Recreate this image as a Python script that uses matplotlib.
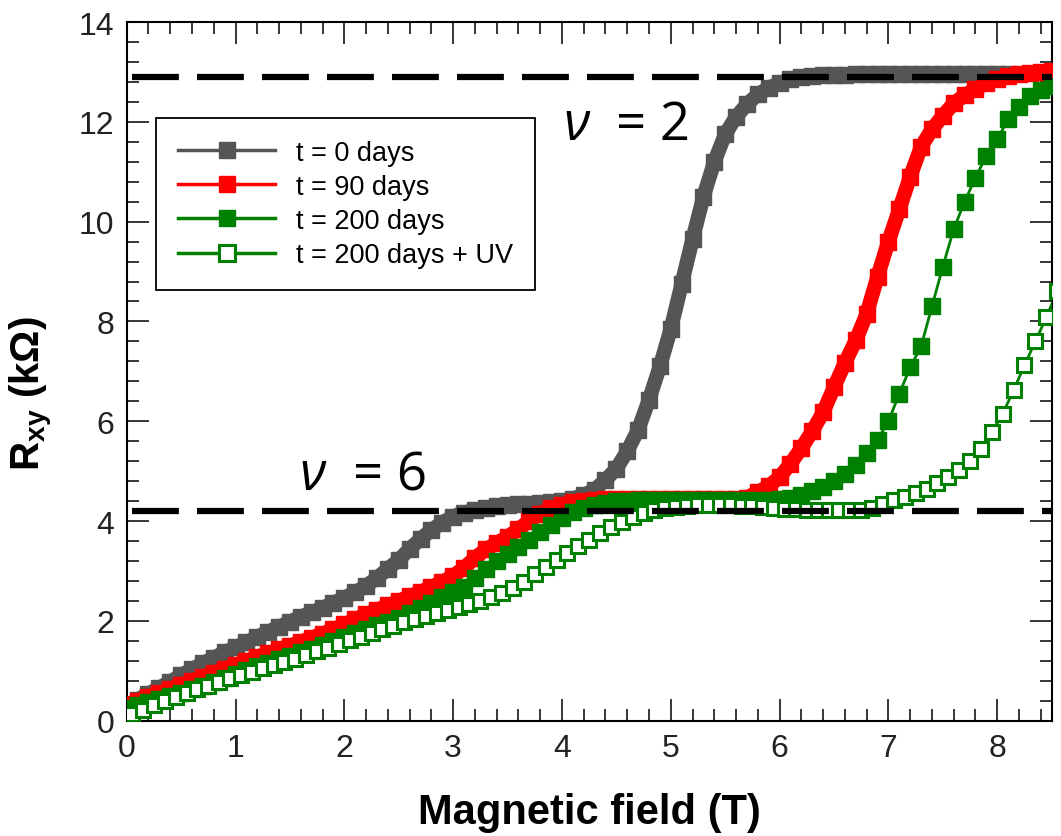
import numpy as np
import matplotlib
matplotlib.use('Agg')
import matplotlib.pyplot as plt
from matplotlib.ticker import MultipleLocator
from matplotlib.lines import Line2D

plt.rcParams['font.family'] = 'Liberation Sans'
plt.rcParams['mathtext.fontset'] = 'custom'
plt.rcParams['mathtext.rm'] = 'Liberation Sans'
plt.rcParams['mathtext.bf'] = 'Liberation Sans:bold'
plt.rcParams['mathtext.it'] = 'Liberation Sans:italic'

# field values (T)
field_0d = np.round(np.arange(0, 8.15, 0.1), 2)
field_90d = np.round(np.arange(0, 8.55, 0.1), 2)
field_200d = np.round(np.arange(0, 8.55, 0.1), 2)
field_uv = np.round(np.arange(0.05, 8.6, 0.1), 2)

# Rxy (kOhm)
rxy_0d = [0.30, 0.42, 0.54, 0.66, 0.78, 0.91, 1.03, 1.15, 1.26, 1.37,
          1.47, 1.57, 1.68, 1.78, 1.88, 1.98, 2.08, 2.17, 2.26, 2.36,
          2.46, 2.57, 2.70, 2.86, 3.04, 3.22, 3.44, 3.64, 3.82, 3.97,
          4.09, 4.17, 4.22, 4.26, 4.30, 4.32, 4.34, 4.35, 4.36, 4.38,
          4.41, 4.45, 4.52, 4.63, 4.82, 5.05, 5.40, 5.83, 6.43, 7.10,
          7.85, 8.75, 9.65, 10.50, 11.20, 11.75, 12.10, 12.35, 12.55, 12.68,
          12.78, 12.85, 12.89, 12.92, 12.93, 12.94, 12.94, 12.95, 12.95, 12.95,
          12.95, 12.95, 12.95, 12.95, 12.95, 12.95, 12.95, 12.95, 12.95, 12.95,
          12.95, 12.95]
rxy_90d = [0.32, 0.40, 0.48, 0.56, 0.64, 0.72, 0.80, 0.88, 0.96, 1.04,
           1.12, 1.20, 1.28, 1.35, 1.43, 1.50, 1.58, 1.66, 1.74, 1.83,
           1.93, 2.03, 2.13, 2.22, 2.31, 2.40, 2.49, 2.58, 2.68, 2.78,
           2.90, 3.06, 3.26, 3.43, 3.56, 3.68, 3.84, 4.00, 4.15, 4.26,
           4.33, 4.38, 4.41, 4.43, 4.44, 4.44, 4.44, 4.44, 4.44, 4.44,
           4.44, 4.44, 4.44, 4.44, 4.44, 4.44, 4.44, 4.47, 4.58, 4.70,
           4.88, 5.15, 5.46, 5.80, 6.18, 6.68, 7.17, 7.62, 8.15, 8.90,
           9.60, 10.25, 10.90, 11.50, 11.85, 12.12, 12.37, 12.53, 12.66, 12.77,
           12.85, 12.91, 12.95, 12.98, 13.00, 13.01]
rxy_200d = [0.25, 0.32, 0.38, 0.44, 0.50, 0.56, 0.63, 0.70, 0.78, 0.86,
            0.94, 1.01, 1.09, 1.16, 1.23, 1.30, 1.37, 1.44, 1.51, 1.59,
            1.67, 1.75, 1.83, 1.91, 1.98, 2.06, 2.15, 2.25, 2.36, 2.47,
            2.57, 2.68, 2.86, 3.04, 3.20, 3.34, 3.48, 3.63, 3.78, 3.93,
            4.07, 4.18, 4.27, 4.33, 4.37, 4.40, 4.41, 4.42, 4.42, 4.42,
            4.42, 4.42, 4.42, 4.42, 4.42, 4.42, 4.42, 4.42, 4.42, 4.42,
            4.44, 4.47, 4.53, 4.60, 4.68, 4.80, 4.95, 5.13, 5.37, 5.63,
            6.00, 6.55, 7.08, 7.50, 8.30, 9.10, 9.85, 10.40, 10.88, 11.32,
            11.65, 12.05, 12.30, 12.52, 12.64, 12.72]
rxy_uv = [0.13, 0.22, 0.31, 0.40, 0.48, 0.55, 0.63, 0.70, 0.77, 0.85,
          0.92, 0.98, 1.05, 1.11, 1.17, 1.24, 1.31, 1.39, 1.46, 1.53,
          1.61, 1.68, 1.76, 1.83, 1.90, 1.97, 2.04, 2.10, 2.16, 2.22,
          2.28, 2.34, 2.40, 2.47, 2.55, 2.65, 2.78, 2.93, 3.08, 3.22,
          3.36, 3.50, 3.63, 3.76, 3.88, 3.99, 4.08, 4.16, 4.22, 4.26,
          4.29, 4.31, 4.32, 4.33, 4.33, 4.32, 4.31, 4.30, 4.28, 4.26,
          4.25, 4.24, 4.23, 4.23, 4.23, 4.23, 4.23, 4.23, 4.27, 4.35,
          4.42, 4.49, 4.56, 4.65, 4.76, 4.88, 5.02, 5.20, 5.45, 5.78,
          6.15, 6.62, 7.12, 7.60, 8.08, 8.60]

labels = ['t = 0 days', 't = 90 days', 't = 200 days', 't = 200 days + UV']
colors = ['#555555', '#ff0000', '#008000', '#008000']

# quantum Hall plateaus (kOhm)
plateau_levels = [12.89, 4.21]
plateau_nu = ['2', '6']
nu_pos = [(4.01, 11.66), (1.59, 4.64)]

fig = plt.figure(figsize=(10.61, 8.37), dpi=100)
ax = fig.add_axes([0.1194, 0.1378, 0.8718, 0.8347])

# dense curves: thick line + squares
ax.plot(field_0d, rxy_0d, color=colors[0], lw=10.5, marker='s', ms=11,
        solid_capstyle='butt', zorder=2)
ax.plot(field_90d, rxy_90d, color=colors[1], lw=10.5, marker='s', ms=11,
        solid_capstyle='butt', zorder=3)
ax.plot(field_200d, rxy_200d, color=colors[2], lw=2, marker='s', ms=11,
        zorder=4)
ax.plot(field_uv, rxy_uv, color=colors[3], lw=2, marker='s', ms=10.5,
        mfc='white', mec=colors[3], mew=2.2, zorder=5)

for lev in plateau_levels:
    ax.axhline(lev, xmin=0.006, xmax=1, color='black', lw=4.5,
               dashes=(7.5, 2.9), zorder=6)

for (nx, ny), n in zip(nu_pos, plateau_nu):
    ax.text(nx, ny, 'ν', fontsize=38, style='italic',
            family=['Open Sans', 'DejaVu Sans'], ha='left', va='baseline', zorder=7)
    ax.text(nx + 0.49, ny, '= ' + n, fontsize=38,
            family=['Open Sans', 'DejaVu Sans'], ha='left', va='baseline', zorder=7)

ax.set_xlim(0, 8.5)
ax.set_ylim(0, 14)
ax.xaxis.set_major_locator(MultipleLocator(1))
ax.xaxis.set_minor_locator(MultipleLocator(0.2))
ax.yaxis.set_major_locator(MultipleLocator(2))
ax.yaxis.set_minor_locator(MultipleLocator(0.4))
ax.tick_params(which='both', direction='in', top=True, right=True,
               labelsize=23, labelcolor='#222222')
ax.tick_params(which='major', length=16, width=1.1, pad=9)
ax.tick_params(which='minor', length=8.5, width=1.1)
for sp in ax.spines.values():
    sp.set_linewidth(1.5)

ax.set_xlabel('Magnetic field (T)', fontsize=30, fontweight='bold')
ax.xaxis.set_label_coords(0.5, -0.102)
ax.set_ylabel(r'$\mathbf{R_{xy}}$ (kΩ)', fontsize=29, fontweight='bold')
ax.yaxis.set_label_coords(-0.077, 0.47)

handles = [Line2D([], [], color=c, lw=2.5, marker='s', ms=12) for c in colors[:3]]
handles.append(Line2D([], [], color=colors[3], lw=2.5, marker='s', ms=11,
                      mfc='white', mec=colors[3], mew=2.2))
leg = ax.legend(handles, labels, loc='upper left', bbox_to_anchor=(0.032, 0.8626),
                borderaxespad=0, fontsize=19.5, labelspacing=0.3, handlelength=3.6,
                handletextpad=0.75, borderpad=0.8, fancybox=False, framealpha=1,
                edgecolor='black')
leg.get_frame().set_linewidth(1.3)
leg.set_zorder(10)

fig.savefig('out.png', dpi=100)
